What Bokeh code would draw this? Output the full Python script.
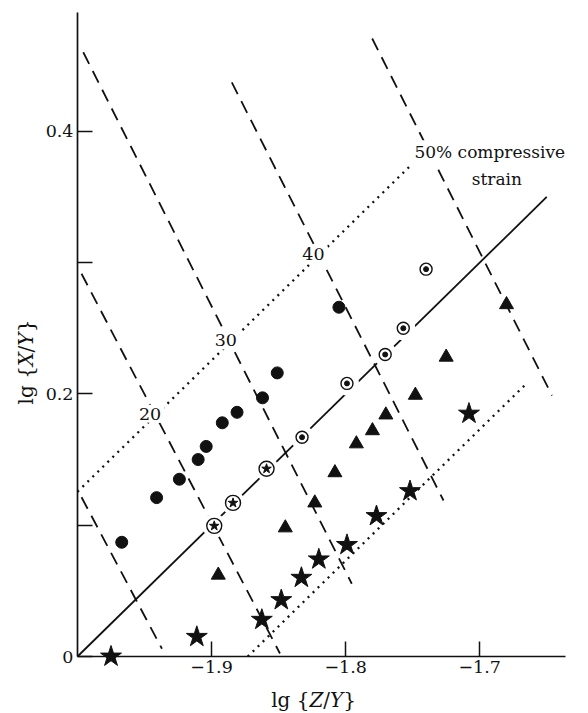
import math
from bokeh.plotting import figure
from bokeh.models import Range1d, FixedTicker, CustomJSTickFormatter, Label, LinearAxis
from bokeh.embed import file_html
from bokeh.resources import INLINE

# ---------------- data ----------------
x_ticks = [-1.9, -1.8, -1.7]
y_ticks = [0.0, 0.2, 0.4]
y_minor_ticks = [0.1, 0.3]
x_axis_span = (-2.0, -1.6358)
y_axis_span = (0.0, 0.4905)

# filled circles
filled_x = [-1.967, -1.941, -1.924, -1.910, -1.904, -1.892, -1.881, -1.862, -1.851, -1.805]
filled_y = [0.087, 0.121, 0.135, 0.150, 0.160, 0.178, 0.186, 0.197, 0.216, 0.266]

# open circles with a star inside
ring_star_x = [-1.898, -1.884, -1.859]
ring_star_y = [0.0995, 0.117, 0.143]

# open circles with a dot inside
ring_dot_x = [-1.8325, -1.799, -1.7705, -1.757, -1.740]
ring_dot_y = [0.167, 0.208, 0.230, 0.250, 0.295]

# filled triangles
tri_x = [-1.895, -1.845, -1.823, -1.808, -1.792, -1.780, -1.770, -1.748, -1.725, -1.680]
tri_y = [0.062, 0.098, 0.117, 0.140, 0.162, 0.172, 0.184, 0.199, 0.228, 0.268]

# filled stars
star_x = [-1.975, -1.911, -1.8625, -1.848, -1.833, -1.820, -1.799, -1.777, -1.752, -1.708]
star_y = [0.000, 0.015, 0.028, 0.043, 0.060, 0.074, 0.085, 0.107, 0.126, 0.185]

# 50% compressive strain line (solid)
solid_x = [-2.0, -1.65]
solid_y = [0.0, 0.35]

# dotted lines
upper_dot_x = [-2.0, -1.752]
upper_dot_y = [0.1255, 0.3735]
lower_dot_x = [-1.873, -1.665]
lower_dot_y = [0.0, 0.208]

# dashed curves (start / end)
dash_x0 = [-1.997, -1.997, -1.9957, -1.8849, -1.7802]
dash_y0 = [0.1213, 0.2915, 0.4602, 0.4372, 0.4707]
dash_x1 = [-1.937, -1.849, -1.7954, -1.727, -1.6461]
dash_y1 = [0.0059, 0.0023, 0.0554, 0.1188, 0.1988]

# curve labels
curve_labels = ["20", "30", "40"]
curve_label_x = [-1.9459, -1.8894, -1.8240]
curve_label_y = [0.1848, 0.2407, 0.3062]

note_lines = ["50% compressive", "strain"]
note_x = [-1.6925, -1.6872]
note_y = [0.3841, 0.3638]

FONT = "DejaVu Serif"
INK = "#111111"

# the frame covers the whole canvas; the axes sit at fixed data positions
p = figure(width=588, height=713,
           x_range=Range1d(-2.05743, -1.61885), y_range=Range1d(-0.04341, 0.49962),
           output_backend="svg", toolbar_location=None,
           x_axis_type=None, y_axis_type=None,
           min_border_left=0, min_border_right=0,
           min_border_top=0, min_border_bottom=0)
p.xgrid.visible = False
p.ygrid.visible = False
p.outline_line_color = None
p.background_fill_color = "white"
p.border_fill_color = "white"

xa = LinearAxis(fixed_location=0.0, bounds=x_axis_span,
                ticker=FixedTicker(ticks=x_ticks),
                formatter=CustomJSTickFormatter(code="return tick.toFixed(1).replace('-', '\u2212');"))
ya = LinearAxis(fixed_location=-2.0, bounds=y_axis_span,
                ticker=FixedTicker(ticks=y_ticks, minor_ticks=y_minor_ticks),
                formatter=CustomJSTickFormatter(code="return tick == 0 ? '0' : tick.toFixed(1);"))
for ax in (xa, ya):
    ax.axis_line_color = INK
    ax.axis_line_width = 1.7
    ax.major_tick_line_color = INK
    ax.major_tick_line_width = 1.5
    ax.major_tick_in = 15
    ax.major_tick_out = 0
    ax.minor_tick_line_color = INK
    ax.minor_tick_line_width = 1.5
    ax.minor_tick_in = 15
    ax.minor_tick_out = 0
    ax.major_label_text_font = FONT
    ax.major_label_text_font_size = "17.5px"
    ax.major_label_text_color = INK
    ax.major_label_standoff = 4
xa.minor_tick_line_color = None
p.add_layout(xa, "below")
p.add_layout(ya, "left")

# lines
p.segment(dash_x0, dash_y0, dash_x1, dash_y1, line_color=INK, line_width=1.8, line_dash="13 8")
p.line(solid_x, solid_y, line_color=INK, line_width=1.8)
p.line(upper_dot_x, upper_dot_y, line_color=INK, line_width=2.3, line_dash="2 5")
p.line(lower_dot_x, lower_dot_y, line_color=INK, line_width=2.3, line_dash="2 5")

# white halos that break lines around the ringed markers
p.scatter(ring_star_x + ring_dot_x, ring_star_y + ring_dot_y, marker="circle", size=24,
          fill_color="white", line_color=None)

# markers
p.scatter(filled_x, filled_y, marker="circle", size=12, fill_color=INK, line_color=INK)
p.scatter(tri_x, tri_y, marker="triangle", size=14, fill_color=INK, line_color=INK)
p.scatter(star_x, star_y, marker="star", size=22, fill_color=INK, line_color=INK)
p.scatter(ring_star_x, ring_star_y, marker="circle", size=15, fill_color="white",
          line_color=INK, line_width=1.4)
p.scatter(ring_star_x, ring_star_y, marker="star", size=10, fill_color=INK, line_color=INK)
p.scatter(ring_dot_x, ring_dot_y, marker="circle", size=12, fill_color="white",
          line_color=INK, line_width=1.4)
p.scatter(ring_dot_x, ring_dot_y, marker="circle", size=5, fill_color=INK, line_color=INK)

# curve labels
for t, lx, ly in zip(curve_labels, curve_label_x, curve_label_y):
    p.add_layout(Label(x=lx, y=ly, text=t, text_align="center", text_baseline="middle",
                       text_font=FONT, text_font_size="17.5px", text_color=INK,
                       background_fill_color="white", padding=3))
for t, lx, ly in zip(note_lines, note_x, note_y):
    p.add_layout(Label(x=lx, y=ly, text=t, text_align="center", text_baseline="middle",
                       text_font=FONT, text_font_size="17px", text_color=INK,
                       background_fill_color="white", padding=2))

# axis titles with italic letters
AXIS_FS = 20
x_title = [("lg {", "normal", 1.914), ("Z", "italic", 0.686), ("/", "normal", 0.337),
           ("Y", "italic", 0.667), ("}", "normal", 0.636)]
y_title = [("lg {", "normal", 1.914), ("X", "italic", 0.685), ("/", "normal", 0.337),
           ("Y", "italic", 0.667), ("}", "normal", 0.636)]


def rich_label(parts, x, y, vertical):
    off = 0.0
    for txt, style, w in parts:
        kw = dict(x=x, y=y, text=txt, text_font=FONT, text_font_size=f"{AXIS_FS}px",
                  text_font_style=style, text_color=INK, text_align="left",
                  text_baseline="alphabetic")
        if vertical:
            kw.update(angle=math.pi / 2, y_offset=off)
        else:
            kw.update(x_offset=off)
        p.add_layout(Label(**kw))
        off += w * AXIS_FS


rich_label(x_title, -1.8555, -0.0335, False)
rich_label(y_title, -2.0385, 0.1920, True)

open("out.html", "w").write(file_html(p, INLINE))
